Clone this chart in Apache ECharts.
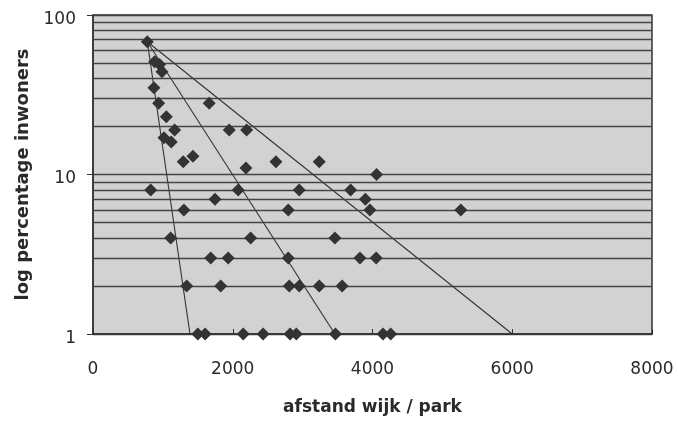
<!DOCTYPE html>
<html>
<head>
<meta charset="utf-8">
<script src="https://cdn.jsdelivr.net/npm/echarts@6/dist/echarts.min.js"></script>
<style>
html,body{margin:0;padding:0;background:#ffffff;}
#chart{width:678px;height:421px;}
</style>
</head>
<body>
<div id="chart"></div>
<script>
// Distance neighbourhood / park (x) and percentage of inhabitants (y, log scale)
const distance = [
  777, 882, 953, 987, 872, 939, 1049, 1168, 1015, 1120,
  1663, 1950, 2199, 1292, 1430, 2189, 2618, 3238, 4058,
  826, 2078, 2952, 3687, 1746, 3898,
  1301, 2794, 3963, 5264,
  1112, 2256, 3462,
  1684, 1935, 2794, 3820, 4053,
  1341, 1827, 2809, 2952, 3238, 3565,
  1500, 1605, 2150, 2435, 2820, 2910, 3470, 4150, 4260
];
const percentage = [
  68, 51, 49, 44, 35, 28, 23, 19, 17, 16,
  28, 19, 19, 12, 13, 11, 12, 12, 10,
  8, 8, 8, 8, 7, 7,
  6, 6, 6, 6,
  4, 4, 4,
  3, 3, 3, 3, 3,
  2, 2, 2, 2, 2, 2,
  1, 1, 1, 1, 1, 1, 1, 1, 1
];
// Envelope lines: common apex and end points on the 1% line
const apex = [777, 68];
const envelopeEnds = [[1388, 1], [3462, 1], [6000, 1]];
// Horizontal log grid lines (minor)
const minorGrid = [2, 3, 4, 5, 6, 7, 8, 9, 20, 30, 40, 50, 60, 70, 80, 90];
const xTicks = { min: 0, max: 8000, interval: 2000 };
const yRange = { min: 1, max: 100 };

const points = distance.map((d, i) => [d, percentage[i]]);
const font = '"DejaVu Sans", sans-serif';

const envelopeSeries = envelopeEnds.map(end => ({
  type: 'line',
  data: [apex, end],
  symbol: 'none',
  lineStyle: { color: '#333333', width: 1.1 },
  z: 3,
  silent: true,
  animation: false
}));

const chart = echarts.init(document.getElementById('chart'), null, { renderer: 'canvas' });
chart.setOption({
  animation: false,
  backgroundColor: '#ffffff',
  grid: {
    left: 93, right: 26, top: 15, bottom: 87,
    show: true,
    backgroundColor: '#d2d2d2',
    borderColor: '#333333',
    borderWidth: 1.5
  },
  xAxis: {
    type: 'value',
    min: xTicks.min, max: xTicks.max, interval: xTicks.interval,
    name: 'afstand wijk / park',
    nameLocation: 'middle',
    nameGap: 65,
    nameTextStyle: { fontFamily: font, fontSize: 17, fontWeight: 'bold', color: '#2a2a2a' },
    axisLine: { show: true, lineStyle: { color: '#333333', width: 1.5 } },
    axisTick: { show: true, inside: true, length: 5, lineStyle: { color: '#333333' } },
    axisLabel: { fontFamily: font, fontSize: 17, color: '#2a2a2a', margin: 27, formatter: v => String(v) },
    splitLine: { show: false }
  },
  yAxis: {
    type: 'log',
    logBase: 10,
    min: yRange.min, max: yRange.max,
    name: 'log percentage inwoners',
    nameLocation: 'middle',
    nameGap: 60,
    nameTextStyle: { fontFamily: font, fontSize: 18, fontWeight: 'bold', color: '#2a2a2a' },
    axisLine: { show: true, lineStyle: { color: '#333333', width: 1.5 } },
    axisTick: { show: true, inside: false, length: 6, lineStyle: { color: '#333333' } },
    axisLabel: { fontFamily: font, fontSize: 17, color: '#2a2a2a', margin: 17, verticalAlign: 'top', lineHeight: 9, formatter: v => String(v) },
    splitLine: { show: true, lineStyle: { color: '#444444', width: 1.3 } }
  },
  series: [
    {
      type: 'line',
      data: [],
      silent: true,
      z: 1,
      markLine: {
        silent: true,
        symbol: ['none', 'none'],
        label: { show: false },
        lineStyle: { color: '#444444', width: 1.3, type: 'solid' },
        data: minorGrid.map(v => ({ yAxis: v })),
        animation: false
      }
    },
    ...envelopeSeries,
    {
      type: 'scatter',
      data: points,
      symbol: 'diamond',
      symbolSize: 13,
      clip: false,
      itemStyle: { color: '#333333', opacity: 1 },
      z: 5
    }
  ]
});
</script>
</body>
</html>
